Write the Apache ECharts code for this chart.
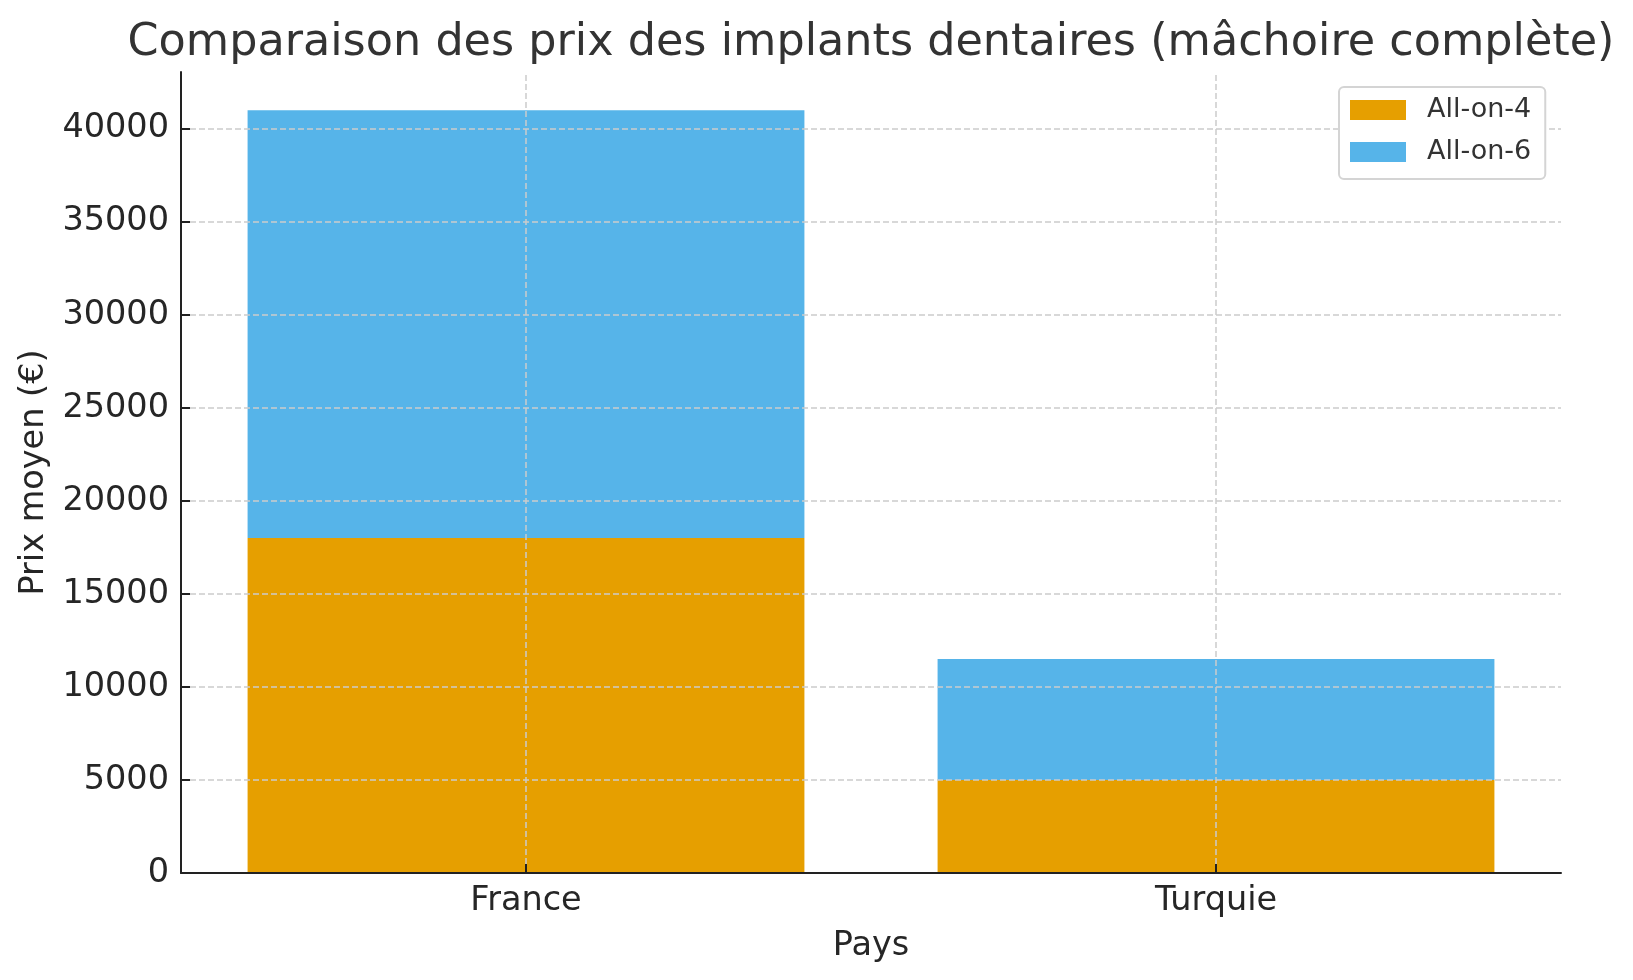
<!DOCTYPE html>
<html>
<head>
<meta charset="utf-8">
<script src="https://cdn.jsdelivr.net/npm/echarts@6/dist/echarts.min.js"></script>
<style>html,body{margin:0;padding:0;background:#fff}#c{width:1633px;height:980px}</style>
</head>
<body>
<div id="c"></div>
<script>
const categories = ['France', 'Turquie'];
const allOn4 = [18000, 5000];
const allOn6 = [23000, 6500];
const seriesNames = ['All-on-4', 'All-on-6'];
const yTicks = [0, 5000, 10000, 15000, 20000, 25000, 30000, 35000, 40000];

const FONT = 'DejaVu Sans';
const TXT = '#262626';
const gridLine = { color: '#cccccc', width: 1.5, type: [6, 3] };

const chart = echarts.init(document.getElementById('c'), null, { renderer: 'canvas' });
chart.setOption({
  animation: false,
  backgroundColor: '#ffffff',
  textStyle: { fontFamily: FONT },
  title: {
    text: 'Comparaison des prix des implants dentaires (mâchoire complète)',
    left: 866, top: 16, textAlign: 'center',
    textStyle: { fontFamily: FONT, fontSize: 44.5, fontWeight: 'normal', color: '#333333' }
  },
  legend: {
    orient: 'vertical', left: 1339, top: 87,
    padding: [8, 14, 12, 11],
    itemWidth: 56, itemHeight: 20, itemGap: 12,
    backgroundColor: '#ffffff',
    borderColor: '#d4d4d4', borderWidth: 2, borderRadius: 5,
    textStyle: { fontFamily: FONT, fontSize: 27, color: '#333333', lineHeight: 30, padding: [0, 0, 0, 16] },
    data: seriesNames.map(n => ({ name: n, icon: 'rect' }))
  },
  grid: { left: 181, right: 72, top: 72, bottom: 107, containLabel: false },
  xAxis: {
    type: 'category', data: categories, z: 3,
    name: 'Pays', nameLocation: 'middle', nameGap: 56,
    nameTextStyle: { fontFamily: FONT, fontSize: 33.5, color: TXT },
    axisLine: { lineStyle: { color: '#222', width: 2 } },
    axisTick: { show: true, inside: true, alignWithLabel: true, length: 9, lineStyle: { color: '#222', width: 2 } },
    axisLabel: { fontFamily: FONT, fontSize: 33.5, color: TXT, margin: 11 },
    splitLine: { show: false }
  },
  yAxis: {
    type: 'value', min: 0, max: 43050, interval: 5000, z: 3,
    name: 'Prix moyen (€)', nameLocation: 'middle', nameGap: 128,
    nameTextStyle: { fontFamily: FONT, fontSize: 33.5, color: TXT },
    axisLine: { show: true, lineStyle: { color: '#222', width: 2 } },
    axisTick: { show: true, inside: true, length: 9, lineStyle: { color: '#222', width: 2 } },
    axisLabel: {
      fontFamily: FONT, fontSize: 33.5, color: TXT, margin: 12, showMaxLabel: false,
      formatter: v => (yTicks.indexOf(v) >= 0 ? String(v) : '')
    },
    splitLine: { show: true, showMaxLine: false, showMinLine: false, lineStyle: gridLine }
  },
  series: [
    {
      name: seriesNames[0], type: 'bar', stack: 'total', data: allOn4,
      barWidth: '80.7%', itemStyle: { color: '#E69F00' },
      markLine: {
        silent: true, symbol: 'none', label: { show: false },
        lineStyle: gridLine, z: 3,
        data: categories.map(c => ({ xAxis: c }))
      }
    },
    {
      name: seriesNames[1], type: 'bar', stack: 'total', data: allOn6,
      barWidth: '80.7%', itemStyle: { color: '#56B4E9' }
    }
  ]
});
</script>
</body>
</html>
